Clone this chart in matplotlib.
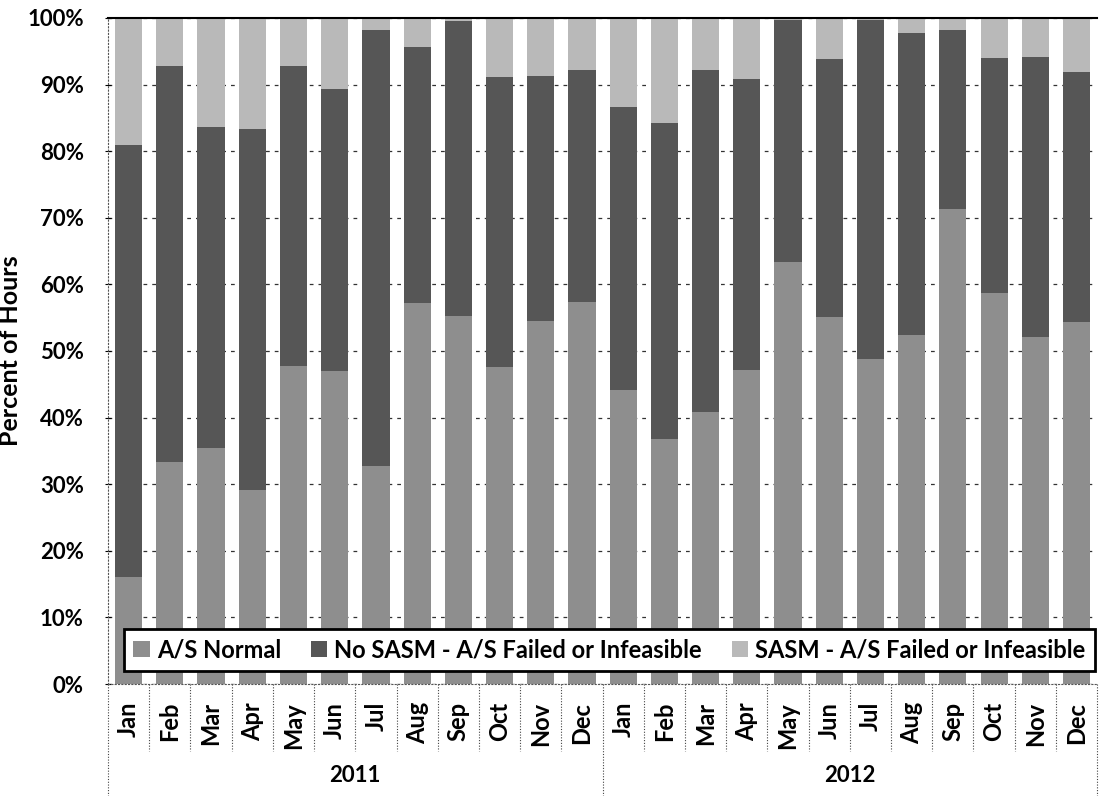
import numpy as np
import matplotlib.pyplot as plt
from matplotlib.ticker import PercentFormatter

# Monthly shares of hours, 2011-2012
months = ['Jan', 'Feb', 'Mar', 'Apr', 'May', 'Jun', 'Jul', 'Aug', 'Sep', 'Oct', 'Nov', 'Dec']
years = ['2011', '2012']

as_normal = [16.1, 33.4, 35.4, 29.2, 47.8, 47.0, 32.8, 57.2, 55.2, 47.6, 54.5, 57.3,
             44.1, 36.8, 40.8, 47.1, 63.4, 55.1, 48.8, 52.4, 71.3, 58.7, 52.1, 54.4]
no_sasm = [64.8, 59.4, 48.2, 54.1, 45.0, 42.3, 65.4, 38.4, 44.3, 43.6, 36.8, 34.9,
           42.5, 47.4, 51.4, 43.7, 36.3, 38.7, 50.9, 45.3, 26.9, 35.3, 42.1, 37.5]
sasm = [19.1, 7.2, 16.4, 16.7, 7.2, 10.7, 1.8, 4.4, 0.5, 8.8, 8.7, 7.8,
        13.4, 15.8, 7.8, 9.2, 0.3, 6.2, 0.3, 2.3, 1.8, 6.0, 5.8, 8.1]

labels = ['A/S Normal', 'No SASM - A/S Failed or Infeasible', 'SASM - A/S Failed or Infeasible']
colors = ['#8e8e8e', '#565656', '#b9b9b9']

plt.rcParams['font.family'] = ['Lato', 'DejaVu Sans']
plt.rcParams['font.weight'] = 'bold'

fig = plt.figure(figsize=(10.99, 7.96), dpi=100)
ax = fig.add_axes([0.0983, 0.1407, 0.900, 0.8367])

n = len(as_normal)
x = np.arange(n)
w = 0.66
bottom = np.zeros(n)
for vals, lab, col in zip([as_normal, no_sasm, sasm], labels, colors):
    ax.bar(x, vals, w, bottom=bottom, color=col, label=lab, zorder=2)
    bottom += np.array(vals)

ax.set_xlim(-0.5, n - 0.5)
ax.set_ylim(0, 100)
ax.set_yticks(np.arange(0, 101, 10))
ax.yaxis.set_major_formatter(PercentFormatter(decimals=0))
ax.tick_params(axis='y', labelsize=16, length=5, direction='inout', pad=15)
ax.grid(axis='y', linestyle=(0, (3, 4)), color='#333333', linewidth=0.9, zorder=1)
ax.set_ylabel('Percent of Hours', fontsize=18, fontweight='bold')
ax.yaxis.set_label_coords(-0.087, 0.5)

for side in ['left', 'bottom']:
    ax.spines[side].set_linestyle((0, (1, 2)))
    ax.spines[side].set_color('#555555')
ax.spines['right'].set_visible(False)
ax.spines['top'].set_linewidth(1.5)

# month labels and group separators
ax.set_xticks([])
trans = ax.get_xaxis_transform()
for i in range(n):
    ax.text(x[i], -0.027, months[i % 12], rotation=90, ha='center', va='top',
            fontsize=17, fontweight='bold', transform=trans)
for i in range(n + 1):
    big = i % 12 == 0
    ax.plot([i - 0.5, i - 0.5], [0, -0.17 if big else -0.1], transform=trans,
            color='#444444', linewidth=0.8, linestyle=(0, (1, 1.5)), clip_on=False)
for j, yr in enumerate(years):
    ax.text(j * 12 + 5.5, -0.137, yr, ha='center', va='center', fontsize=16,
            fontweight='bold', transform=trans)

leg = ax.legend(loc='lower left', bbox_to_anchor=(0.016, 0.02, 0.982, 0.087),
                mode='expand', ncol=3, fontsize=17, frameon=True, fancybox=False,
                edgecolor='black', framealpha=1, borderaxespad=0, handlelength=0.7,
                handleheight=0.7, handletextpad=0.3, columnspacing=1.0)
leg.get_frame().set_linewidth(2)
leg.set_zorder(5)

plt.savefig('out.png', dpi=100)
